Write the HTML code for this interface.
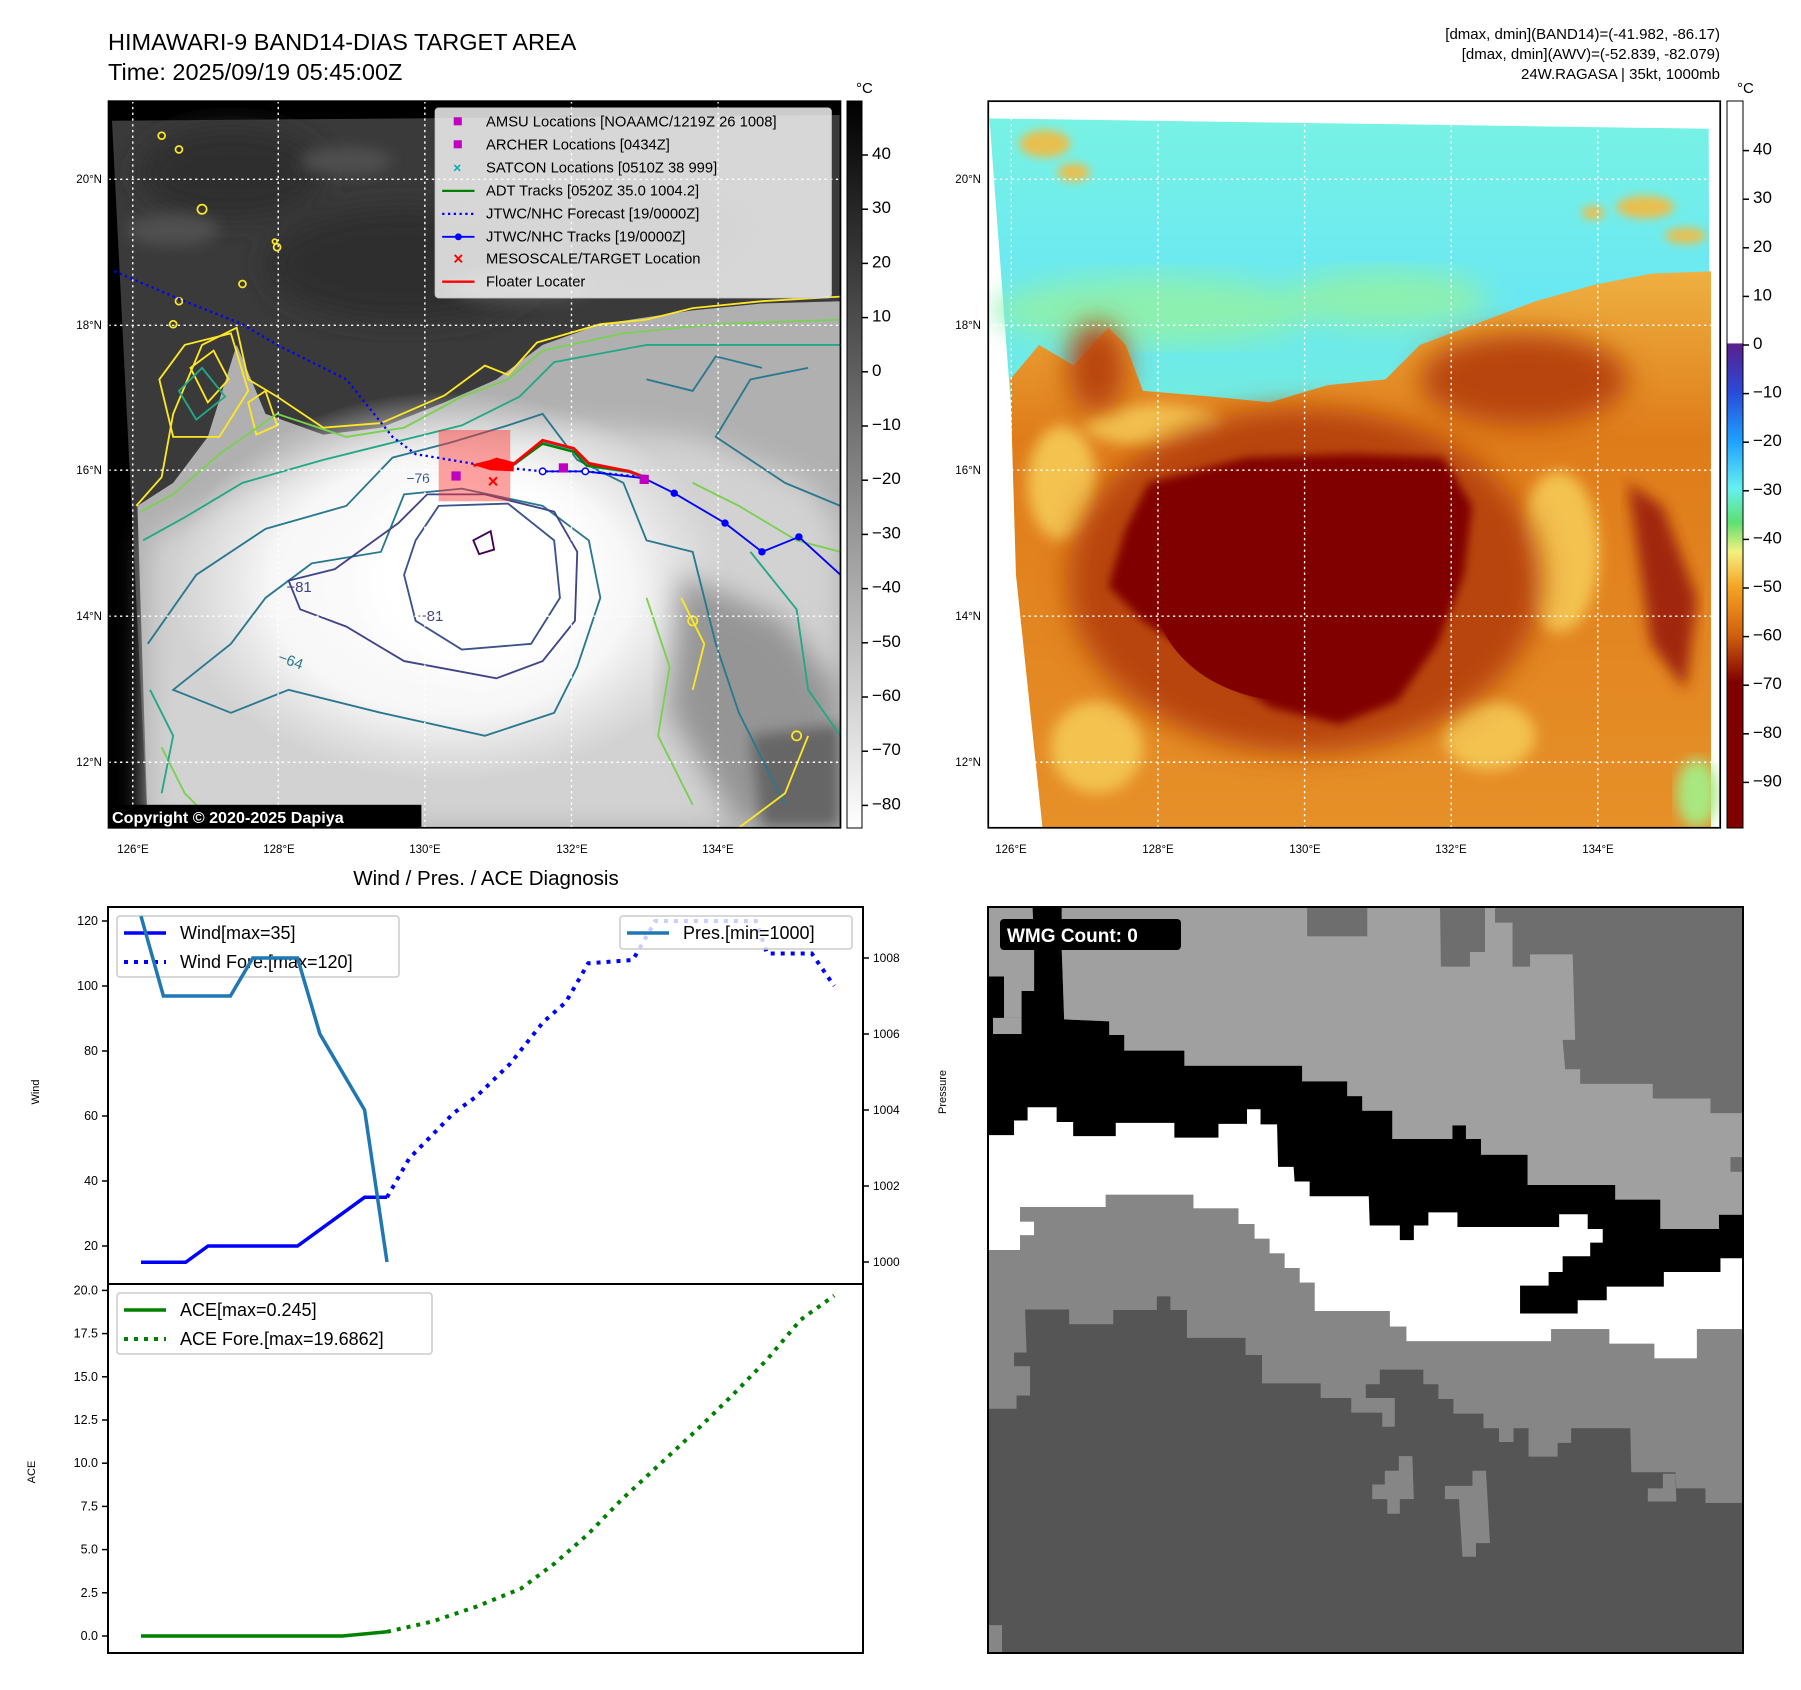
<!DOCTYPE html>
<html><head><meta charset="utf-8"><style>
html,body{margin:0;padding:0;background:#fff;}
svg{display:block;font-family:"Liberation Sans","DejaVu Sans",sans-serif;}
</style></head><body>
<svg id="fig" width="1801" height="1690" viewBox="0 0 1801 1690" xmlns="http://www.w3.org/2000/svg">
<defs>
<linearGradient id="cbL" x1="0" y1="0" x2="0" y2="1"><stop offset="0" stop-color="#000"/><stop offset="1" stop-color="#fff"/></linearGradient>
<linearGradient id="cbR" x1="0" y1="0" x2="0" y2="1">
<stop offset="0" stop-color="#fff"/><stop offset="0.333" stop-color="#fff"/><stop offset="0.334" stop-color="#5a1f8c"/>
<stop offset="0.40" stop-color="#2a4ad8"/><stop offset="0.467" stop-color="#1ea0ff"/><stop offset="0.533" stop-color="#66f0f0"/>
<stop offset="0.58" stop-color="#5de070"/><stop offset="0.62" stop-color="#f4f080"/><stop offset="0.667" stop-color="#f5a623"/>
<stop offset="0.733" stop-color="#d2620e"/><stop offset="0.80" stop-color="#800000"/><stop offset="1" stop-color="#800000"/></linearGradient>
<linearGradient id="cyanG" x1="0" y1="0" x2="0" y2="1"><stop offset="0" stop-color="#78f2e4"/><stop offset="0.25" stop-color="#6ae8f2"/><stop offset="0.55" stop-color="#78f0d0"/><stop offset="1" stop-color="#90f090"/></linearGradient>
<linearGradient id="orG" x1="0" y1="0" x2="0" y2="1"><stop offset="0" stop-color="#eeb040"/><stop offset="0.3" stop-color="#df7c1a"/><stop offset="1" stop-color="#e69028"/></linearGradient>
<radialGradient id="cloudG" cx="0.5" cy="0.5" r="0.5"><stop offset="0" stop-color="#fff"/><stop offset="0.65" stop-color="#f7f7f7"/><stop offset="1" stop-color="#f0f0f0" stop-opacity="0"/></radialGradient>
<filter id="blur4"><feGaussianBlur stdDeviation="4"/></filter>
<filter id="blur6"><feGaussianBlur stdDeviation="6"/></filter>
<filter id="blur12"><feGaussianBlur stdDeviation="12"/></filter>
<clipPath id="clipL"><rect x="94" y="88" width="634" height="632"/></clipPath>
<clipPath id="clipR"><rect x="856" y="88" width="634" height="632"/></clipPath>
</defs>

<text x="108" y="50" font-size="23.5">HIMAWARI-9 BAND14-DIAS TARGET AREA</text>
<text x="108" y="80" font-size="23.5">Time: 2025/09/19 05:45:00Z</text>
<g font-size="15" text-anchor="end">
<text x="1720" y="39">[dmax, dmin](BAND14)=(-41.982, -86.17)</text>
<text x="1720" y="59">[dmax, dmin](AWV)=(-52.839, -82.079)</text>
<text x="1720" y="79">24W.RAGASA | 35kt, 1000mb</text>
</g>

<g transform="scale(1.1545,1.1497)">
<g>
<rect x="94" y="88" width="634" height="632" fill="#000"/>
<g clip-path="url(#clipL)">
<polygon points="97,105 728,100 728,720 128,720" fill="#3a3a3a"/>
<g fill="#2e2e2e" filter="url(#blur12)"><ellipse cx="350" cy="230" rx="120" ry="50"/><ellipse cx="200" cy="150" rx="80" ry="40"/><ellipse cx="560" cy="200" rx="90" ry="40"/></g>
<g fill="#505050" filter="url(#blur6)"><ellipse cx="450" cy="250" rx="60" ry="14"/><ellipse cx="300" cy="140" rx="40" ry="12"/><ellipse cx="150" cy="200" rx="40" ry="14"/></g>
<path d="M119,440 L150,420 L180,380 L205,300 L230,360 L280,378 L330,372 L385,350 L430,330 L470,300 L520,282 L600,270 L660,264 L728,262 L728,720 L128,720 Z" fill="#b0b0b0"/>
<path d="M130,470 L200,430 L300,400 L400,380 L500,370 L600,380 L700,420 L728,460 L728,720 L128,720 Z" fill="#d2d2d2" filter="url(#blur12)"/>
<ellipse cx="390" cy="510" rx="240" ry="170" fill="url(#cloudG)"/>
<ellipse cx="420" cy="500" rx="100" ry="85" fill="#fff" filter="url(#blur12)"/>
<path d="M590,500 L680,540 L728,600 L728,720 L640,720 L580,620 Z" fill="#959595" filter="url(#blur12)"/>
<path d="M650,640 L728,630 L728,720 L660,720 Z" fill="#666" filter="url(#blur6)"/>
<g fill="none" stroke-width="1.6">
<path d="M118,440 L140,415 L150,360 L175,300 L205,285 L215,330 L240,345 L280,372 L330,368 L385,344 L420,318 L440,326 L465,298 L520,282 L560,278 L600,268 L660,262 L728,258" stroke="#fde725"/>
<path d="M138,330 L160,300 L200,290 L215,340 L190,380 L150,380 Z" stroke="#fde725"/>
<path d="M165,320 L185,305 L198,330 L180,350 Z M215,350 L230,340 L240,370 L222,378 Z" stroke="#fde725"/>
<path d="M122,445 L150,430 L190,395 L240,360 L300,380 L350,372 L400,345 L440,330 L470,305 L540,290 L620,282 L728,278" stroke="#7ad151"/>
<path d="M155,340 L175,320 L195,345 L170,365 Z" stroke="#22a884"/>
<path d="M124,470 L160,450 L210,420 L280,400 L340,385 L400,370 L450,345 L480,315 L560,300 L640,300 L728,300" stroke="#22a884"/>
<path d="M128,560 L170,500 L230,460 L300,440 L340,398 L390,385 L440,370 L470,360 L500,400 L540,420 L560,470 L600,480 L620,560 L640,620 L680,700" stroke="#2a788e"/>
<path d="M700,320 L650,330 L620,380 L680,420 L728,440" stroke="#2a788e"/>
<path d="M560,330 L600,340 L620,310 L660,320" stroke="#2a788e"/>
<path d="M150,600 L200,560 L230,520 L270,490 L330,480 L350,430 L400,425 L470,440 L510,470 L520,520 L500,580 L480,620 L420,640 L330,620 L250,600 L200,620 Z" stroke="#2a788e"/>
<path d="M250,505 L290,495 L345,455 L370,430 L420,430 L480,445 L500,480 L498,540 L470,575 L430,590 L350,575 L300,545 L260,530 Z" stroke="#414487"/>
<path d="M360,470 L380,440 L440,438 L480,470 L485,520 L460,560 L400,565 L360,540 L350,500 Z" stroke="#3b528b"/>
<path d="M410,470 L425,462 L428,478 L415,482 Z" stroke="#440154"/>
<path d="M600,420 L640,440 L690,470 L728,480" stroke="#7ad151"/>
<path d="M590,520 L610,560 L600,600" stroke="#fde725"/>
<path d="M700,640 L680,690 L640,720" stroke="#fde725"/>
<path d="M140,650 L160,690 L190,720" stroke="#7ad151"/>
<path d="M130,600 L150,640 L140,690" stroke="#22a884"/>
<path d="M650,480 L690,530 L700,600 L728,640" stroke="#22a884"/>
<path d="M560,520 L580,580 L570,640 L600,700" stroke="#7ad151"/>
</g>
<g fill="none" stroke="#fde725" stroke-width="1.5">
<circle cx="140" cy="118" r="3"/><circle cx="155" cy="130" r="3"/><circle cx="175" cy="182" r="4"/><circle cx="240" cy="215" r="3"/><circle cx="155" cy="262" r="3"/><circle cx="150" cy="282" r="3"/><circle cx="210" cy="247" r="3"/><circle cx="238" cy="210" r="2"/><circle cx="600" cy="540" r="4"/><circle cx="690" cy="640" r="4"/>
</g>
<text x="362" y="540" font-size="13" fill="#414487">−81</text>
<text x="248" y="515" font-size="13" fill="#414487">−81</text>
<text x="240" y="575" font-size="13" fill="#2a788e" transform="rotate(20 240 575)">−64</text>
<text x="352" y="420" font-size="12" fill="#3b528b">−76</text>
</g>
</g>
<g stroke="#fff" stroke-width="1.2" stroke-dasharray="2,3">
<line x1="115" y1="88" x2="115" y2="720"/><line x1="241" y1="88" x2="241" y2="720"/><line x1="368" y1="88" x2="368" y2="720"/><line x1="495" y1="88" x2="495" y2="720"/><line x1="622" y1="88" x2="622" y2="720"/>
<line x1="94" y1="156" x2="728" y2="156"/><line x1="94" y1="283" x2="728" y2="283"/><line x1="94" y1="409" x2="728" y2="409"/><line x1="94" y1="536" x2="728" y2="536"/><line x1="94" y1="663" x2="728" y2="663"/>
</g>
<rect x="380" y="374" width="62" height="62" fill="#ff3030" fill-opacity="0.45"/>
<polyline points="99,236 160,262 210,282 240,300 300,330 340,380 360,395 420,405 470,410 507,410 558,415" fill="none" stroke="#0000ff" stroke-width="2" stroke-dasharray="2,3"/>
<polyline points="470,410 507,410 558,416 584,429 628,455 660,480 692,467 728,500" fill="none" stroke="#0000ff" stroke-width="1.6"/>
<g fill="#0000ff"><circle cx="558" cy="416" r="3.2"/><circle cx="584" cy="429" r="3.2"/><circle cx="628" cy="455" r="3.2"/><circle cx="660" cy="480" r="3.2"/><circle cx="692" cy="467" r="3.2"/></g>
<g fill="#fff" stroke="#0000ff" stroke-width="1.3"><circle cx="470" cy="410" r="2.8"/><circle cx="507" cy="410" r="2.8"/></g>
<polyline points="445,404 470,385 497,392 510,405 545,410 558,415" fill="none" stroke="#00c0c0" stroke-width="3"/>
<polyline points="442,406 470,386 497,393 508,405 545,410" fill="none" stroke="#008000" stroke-width="2"/>
<polyline points="410,405 430,400 442,406 470,383 497,390 510,403 545,410 558,415" fill="none" stroke="#ff0000" stroke-width="2.5"/>
<polygon points="412,405 430,398 445,402 445,410 425,409" fill="#ff0000"/>
<g fill="#c000c0"><rect x="391" y="410" width="8" height="8"/><rect x="484" y="403" width="8" height="8"/><rect x="554" y="413" width="8" height="8"/></g>
<text x="427" y="424" font-size="16" fill="#ff0000" text-anchor="middle" font-weight="bold">×</text>
<g>
<rect x="377" y="94" width="343" height="165" rx="3" fill="#fff" fill-opacity="0.8" stroke="#ccc"/>
<g font-size="12.8" fill="#000">
<rect x="393" y="102" width="7" height="7" fill="#c000c0"/><text x="421" y="110">AMSU Locations [NOAAMC/1219Z 26 1008]</text>
<rect x="393" y="122" width="7" height="7" fill="#c000c0"/><text x="421" y="130">ARCHER Locations [0434Z]</text>
<text x="396" y="150" fill="#00b0b0" font-size="12" text-anchor="middle" font-weight="bold">×</text><text x="421" y="150">SATCON Locations [0510Z 38 999]</text>
<line x1="383" y1="166" x2="411" y2="166" stroke="#008000" stroke-width="2"/><text x="421" y="170">ADT Tracks [0520Z 35.0 1004.2]</text>
<line x1="383" y1="186" x2="411" y2="186" stroke="#0000ff" stroke-width="2" stroke-dasharray="2,3"/><text x="421" y="190">JTWC/NHC Forecast [19/0000Z]</text>
<line x1="383" y1="206" x2="411" y2="206" stroke="#0000ff" stroke-width="1.6"/><circle cx="397" cy="206" r="3" fill="#0000ff"/><text x="421" y="210">JTWC/NHC Tracks [19/0000Z]</text>
<text x="397" y="230" fill="#ff0000" font-size="15" text-anchor="middle" font-weight="bold">×</text><text x="421" y="229">MESOSCALE/TARGET Location</text>
<line x1="383" y1="245" x2="411" y2="245" stroke="#ff0000" stroke-width="2"/><text x="421" y="249">Floater Locater</text>
</g></g>
<rect x="94" y="700" width="271" height="20" fill="#000"/>
<text x="97" y="716" font-size="14" font-weight="bold" fill="#fff">Copyright © 2020-2025 Dapiya</text>
<rect x="94" y="88" width="634" height="632" fill="none" stroke="#000" stroke-width="1.5"/>

<g>
<rect x="856" y="88" width="634" height="632" fill="#fff"/>
<g clip-path="url(#clipR)">
<polygon points="857,103 1480,112 1482,720 903,720" fill="url(#cyanG)"/>
<g fill="#8cf0b0" filter="url(#blur12)"><ellipse cx="1000" cy="270" rx="140" ry="30"/><ellipse cx="1200" cy="260" rx="90" ry="25"/></g>
<g fill="#e8c050" filter="url(#blur4)"><ellipse cx="905" cy="125" rx="22" ry="12"/><ellipse cx="930" cy="150" rx="14" ry="8"/><ellipse cx="1425" cy="180" rx="25" ry="10"/><ellipse cx="1460" cy="205" rx="18" ry="7"/><ellipse cx="1380" cy="185" rx="10" ry="6"/></g>
<path d="M875,330 L900,300 L930,318 L960,285 L975,300 L990,340 L1050,345 L1100,350 L1150,335 L1200,330 L1230,300 L1270,285 L1330,262 L1380,248 L1430,238 L1482,236 L1482,720 L903,720 L880,500 Z" fill="url(#orG)"/>
<g fill="#f3c250" filter="url(#blur6)"><ellipse cx="920" cy="420" rx="30" ry="50"/><ellipse cx="1000" cy="370" rx="60" ry="18"/><ellipse cx="1350" cy="480" rx="35" ry="70"/><ellipse cx="1290" cy="640" rx="40" ry="30"/><ellipse cx="950" cy="650" rx="40" ry="40"/></g>
<g fill="#b8440a" filter="url(#blur12)"><ellipse cx="1130" cy="505" rx="205" ry="150"/><ellipse cx="1320" cy="330" rx="90" ry="40"/><ellipse cx="950" cy="320" rx="25" ry="40"/></g>
<path d="M995,420 L1080,398 L1170,395 L1250,398 L1275,440 L1268,500 L1245,560 L1210,610 L1160,630 L1100,615 L1050,580 L990,540 L960,510 L975,460 Z" fill="#800000" filter="url(#blur4)"/>
<ellipse cx="1120" cy="515" rx="120" ry="95" fill="#800000"/>
<path d="M1410,420 L1440,440 L1470,520 L1460,600 L1430,560 Z" fill="#a02808" filter="url(#blur6)"/>
<ellipse cx="1470" cy="690" rx="18" ry="30" fill="#a8e880" filter="url(#blur6)"/>
</g>
<g stroke="#fff" stroke-width="1.2" stroke-dasharray="2,3">
<line x1="876" y1="88" x2="876" y2="720"/><line x1="1003" y1="88" x2="1003" y2="720"/><line x1="1130" y1="88" x2="1130" y2="720"/><line x1="1257" y1="88" x2="1257" y2="720"/><line x1="1384" y1="88" x2="1384" y2="720"/>
<line x1="856" y1="156" x2="1490" y2="156"/><line x1="856" y1="283" x2="1490" y2="283"/><line x1="856" y1="409" x2="1490" y2="409"/><line x1="856" y1="536" x2="1490" y2="536"/><line x1="856" y1="663" x2="1490" y2="663"/>
</g>
<rect x="856" y="88" width="634" height="632" fill="none" stroke="#000" stroke-width="1.5"/>
</g>
</g>

<g font-size="11.5">
<g text-anchor="end"><text x="102" y="183">20°N</text><text x="102" y="329">18°N</text><text x="102" y="474">16°N</text><text x="102" y="620">14°N</text><text x="102" y="766">12°N</text>
<text x="981" y="183">20°N</text><text x="981" y="329">18°N</text><text x="981" y="474">16°N</text><text x="981" y="620">14°N</text><text x="981" y="766">12°N</text></g>
<g text-anchor="middle"><text x="133" y="853">126°E</text><text x="279" y="853">128°E</text><text x="425" y="853">130°E</text><text x="572" y="853">132°E</text><text x="718" y="853">134°E</text>
<text x="1011" y="853">126°E</text><text x="1158" y="853">128°E</text><text x="1305" y="853">130°E</text><text x="1451" y="853">132°E</text><text x="1598" y="853">134°E</text></g>
</g>

<g>
<rect x="847" y="101" width="15" height="727" fill="url(#cbL)" stroke="#000" stroke-width="1"/>
<text x="856" y="93" font-size="15">°C</text>
<g id="cbLticks"></g>
</g>
<g>
<rect x="1727" y="101" width="16" height="727" fill="url(#cbR)" stroke="#000" stroke-width="1"/>
<text x="1737" y="93" font-size="15">°C</text>
<g id="cbRticks"></g>
</g>

<text x="486" y="885" font-size="20.5" text-anchor="middle">Wind / Pres. / ACE Diagnosis</text>
<rect x="108" y="907" width="755" height="746" fill="#fff"/>
<g id="chart"></g>
<g>
<rect x="117" y="916" width="282" height="61" rx="3" fill="#fff" fill-opacity="0.85" stroke="#ccc" stroke-width="1.5"/>
<line x1="124" y1="933" x2="166" y2="933" stroke="#0000ff" stroke-width="3.5"/>
<line x1="124" y1="962" x2="166" y2="962" stroke="#0000ff" stroke-width="4" stroke-dasharray="4,6"/>
<text x="180" y="939" font-size="18">Wind[max=35]</text><text x="180" y="968" font-size="18">Wind Fore.[max=120]</text>
</g>
<g>
<rect x="117" y="1293" width="315" height="61" rx="3" fill="#fff" fill-opacity="0.85" stroke="#ccc" stroke-width="1.5"/>
<line x1="124" y1="1310" x2="166" y2="1310" stroke="#008000" stroke-width="3.5"/>
<line x1="124" y1="1339" x2="166" y2="1339" stroke="#008000" stroke-width="4" stroke-dasharray="4,6"/>
<text x="180" y="1316" font-size="18">ACE[max=0.245]</text><text x="180" y="1345" font-size="18">ACE Fore.[max=19.6862]</text>
</g>
<g id="chart2"></g>
<g>
<rect x="620" y="916" width="232" height="33" rx="3" fill="#fff" fill-opacity="0.8" stroke="#ccc" stroke-width="1.5"/>
<line x1="627" y1="933" x2="669" y2="933" stroke="#1f77b4" stroke-width="3.5"/>
<text x="683" y="939" font-size="18">Pres.[min=1000]</text>
</g>
<line x1="108" y1="1284" x2="863" y2="1284" stroke="#000" stroke-width="2"/>
<rect x="108" y="907" width="755" height="746" fill="none" stroke="#000" stroke-width="2"/>
<text transform="translate(39,1092) rotate(-90)" font-size="11" text-anchor="middle">Wind</text>
<text transform="translate(946,1092) rotate(-90)" font-size="11" text-anchor="middle">Pressure</text>
<text transform="translate(35,1472) rotate(-90)" font-size="11" text-anchor="middle">ACE</text>

<svg x="988" y="907" width="755" height="746" viewBox="8 18 1507 1527" preserveAspectRatio="none">
<rect x="0" y="0" width="1600" height="1600" fill="#a0a0a0"/>
<polygon fill="#6e6e6e" points="1020,0 1600,0 1600,440 1450,440 1450,410 1335,410 1335,380 1190,380 1190,350 1160,350 1155,290 1180,290 1175,115 1090,115 1090,140 1055,140 1055,50 1020,50"/>
<rect x="645" y="0" width="120" height="78" fill="#6e6e6e"/><polygon fill="#6e6e6e" points="910,0 1000,0 1000,110 970,110 970,140 912,140"/>
<rect x="1490" y="530" width="30" height="30" fill="#6e6e6e"/>
<polygon fill="#fff" points="0,160 40,160 40,245 75,245 75,190 100,190 100,100 155,100 160,248 250,252 250,280 280,280 280,312 400,312 400,343 635,343 635,375 725,375 725,405 755,405 755,435 815,435 815,493 935,493 935,465 962,465 962,493 992,493 992,525 1085,525 1085,587 1260,587 1260,617 1350,617 1350,677 1467,677 1467,648 1600,648 1600,882 1423,882 1423,942 1338,942 1338,912 1248,912 1248,882 1132,882 1132,907 843,907 843,877 810,877 810,845 660,845 660,787 630,787 630,757 600,757 600,727 570,727 570,697 540,697 540,667 508,667 508,635 418,635 418,607 243,607 243,632 72,632 72,662 100,662 100,690 72,690 72,720 0,720"/>
<polygon fill="#000" points="0,160 40,160 40,245 75,245 75,190 100,190 100,100 97,18 155,18 155,100 160,248 250,252 250,280 280,280 280,312 400,312 400,343 635,343 635,375 725,375 725,405 755,405 755,435 815,435 815,493 935,493 935,465 962,465 962,493 992,493 992,525 1085,525 1085,587 1260,587 1260,617 1350,617 1350,677 1467,677 1467,648 1600,648 1600,737 1470,737 1470,765 1357,765 1357,795 1243,795 1243,823 1185,823 1185,850 1070,850 1070,793 1127,793 1127,765 1155,765 1155,733 1210,733 1210,705 1235,705 1235,677 1205,677 1205,647 1148,647 1148,673 945,673 945,643 887,643 887,670 858,670 858,700 830,700 830,670 770,670 768,610 650,610 650,580 620,580 618,550 587,550 585,463 552,463 552,432 525,432 525,462 468,462 468,490 380,490 380,460 263,460 263,487 178,487 178,458 145,458 145,428 87,428 87,455 60,455 60,485 0,485"/>
<polygon fill="#a0a0a0" points="0,18 40,18 40,160 0,160"/>
<polygon fill="#a0a0a0" points="18,245 75,245 75,278 18,278"/>
<polygon fill="#868686" points="0,720 72,720 72,690 100,690 100,662 72,662 72,632 243,632 243,607 418,607 418,635 508,635 508,667 540,667 540,697 570,697 570,727 600,727 600,757 630,757 630,787 660,787 660,845 810,845 810,877 843,877 843,907 1132,907 1132,882 1248,882 1248,912 1338,912 1338,942 1423,942 1423,882 1600,882 1600,1600 0,1600"/>
<polygon fill="#555" points="0,1045 65,1045 65,1018 92,1018 92,958 60,958 60,930 85,930 82,842 170,842 170,872 258,872 258,843 345,843 345,815 372,815 372,843 405,843 405,900 522,900 522,935 555,935 555,993 672,993 672,1023 733,1023 733,1053 795,1053 795,1082 820,1082 820,1023 762,1023 762,995 790,995 790,965 877,965 877,995 907,995 907,1025 937,1025 937,1055 997,1055 997,1085 1028,1085 1028,1113 1057,1113 1057,1085 1087,1085 1087,1143 1145,1143 1145,1115 1172,1115 1172,1085 1290,1085 1292,1175 1380,1175 1382,1208 1440,1208 1440,1238 1600,1238 1600,1600 0,1600"/>
<polygon fill="#868686" points="828,1142 855,1142 858,1230 830,1230 830,1260 805,1260 805,1230 775,1230 775,1200 800,1200 800,1172 828,1172"/>
<polygon fill="#868686" points="975,1172 1002,1172 1010,1320 982,1320 982,1348 955,1348 948,1230 920,1230 920,1203 975,1203"/>
<polygon fill="#868686" points="1325,1208 1355,1208 1355,1178 1380,1178 1382,1235 1325,1235"/>
<rect x="8" y="1488" width="28" height="57" fill="#868686"/>
</svg>
<rect x="988" y="907" width="755" height="746" fill="none" stroke="#000" stroke-width="2"/>
<rect x="1000" y="919" width="181" height="31" rx="4" fill="#000"/>
<text x="1007" y="942" font-size="19" font-weight="bold" fill="#fff">WMG Count: 0</text>
</svg>

<script>
const windObsIdx = [0, 4, 6, 14, 20, 22];
const windObs = [15, 15, 20, 20, 35, 35];
const windForeIdx = [22, 24, 26, 28, 30, 33, 36, 38, 40, 44, 46, 55, 56, 60, 62];
const windFore = [35, 47, 54, 61, 66, 76, 89, 95, 107, 108, 120, 120, 110, 110, 100];
const presIdx = [0, 2, 8, 10, 14, 16, 20, 22];
const presVals = [1009.1, 1007, 1007, 1008, 1008, 1006, 1004, 1000];
const aceObsIdx = [0, 18, 22];
const aceObs = [0, 0, 0.245];
const aceForeIdx = [22, 26, 30, 34, 37, 40, 43, 47, 50, 53, 56, 59, 62];
const aceFore = [0.245, 0.83, 1.7, 2.75, 4.2, 5.9, 7.9, 10.3, 12.1, 14, 16, 18.3, 19.7];
const windTicks = [20, 40, 60, 80, 100, 120];
const presTicks = [1000, 1002, 1004, 1006, 1008];
const aceTicks = [0, 2.5, 5, 7.5, 10, 12.5, 15, 17.5, 20];
const cbLTicks = [40, 30, 20, 10, 0, -10, -20, -30, -40, -50, -60, -70, -80];
const cbRTicks = [40, 30, 20, 10, 0, -10, -20, -30, -40, -50, -60, -70, -80, -90];

const NS = "http://www.w3.org/2000/svg";
const xS = i => 141 + i * 11.18;
const yW = v => 1246 - (v - 20) * 3.25;
const yP = p => 1262 - (p - 1000) * 38;
const yA = a => 1636 - a * 17.28;
const yCL = v => 155 + (40 - v) * 5.42;
const yCR = v => 150.6 + (40 - v) * 4.86;
const fmt = v => (v < 0 ? "\u2212" + Math.abs(v) : String(v));

function mk(tag, attrs, parent) {
  const e = document.createElementNS(NS, tag);
  for (const k in attrs) e.setAttribute(k, attrs[k]);
  parent.appendChild(e);
  return e;
}
const chart = document.getElementById("chart");
const chart2 = document.getElementById("chart2");
function line(idx, vals, ys, color, dashed, name, parent) {
  const pts = idx.map((i, k) => xS(i).toFixed(1) + "," + ys(vals[k]).toFixed(1)).join(" ");
  const p = mk("polyline", {points: pts, fill: "none", stroke: color, "stroke-width": dashed ? 4 : 3.5, "stroke-dasharray": dashed ? "4,6" : "none"}, parent);
  
  
}
line(windForeIdx, windFore, yW, "#0000ff", true, "wind-forecast-line", chart);
line(windObsIdx, windObs, yW, "#0000ff", false, "wind-line", chart);
line(aceForeIdx, aceFore, yA, "#008000", true, "ace-forecast-line", chart);
line(aceObsIdx, aceObs, yA, "#008000", false, "ace-line", chart);
line(presIdx, presVals, yP, "#1f77b4", false, "pressure-line", chart2);

function ticks(list, ys, xTick, side, fmtFn, name, parent, fs) {
  list.forEach(v => {
    const y = ys(v);
    const t = mk("line", {x1: xTick, x2: side === "l" ? xTick - 6 : xTick + 6, y1: y, y2: y, stroke: "#000", "stroke-width": 1.5}, parent);
    
    
    const tx = mk("text", {x: side === "l" ? xTick - 10 : xTick + 10, y: y + 4, "font-size": fs, "text-anchor": side === "l" ? "end" : "start"}, parent);
    tx.textContent = fmtFn(v);
    
    
  });
}
ticks(windTicks, yW, 108, "l", v => String(v), "wind-axis", chart2, 12.5);
ticks(presTicks, yP, 863, "r", v => String(v), "pressure-axis", chart2, 12);
ticks(aceTicks, yA, 108, "l", v => v.toFixed(1), "ace-axis", chart2, 12.5);
ticks(cbLTicks, yCL, 862, "r", fmt, "ir-colorbar", document.getElementById("cbLticks"), 17);
ticks(cbRTicks, yCR, 1743, "r", fmt, "awv-colorbar", document.getElementById("cbRticks"), 17);
</script>
</body></html>
